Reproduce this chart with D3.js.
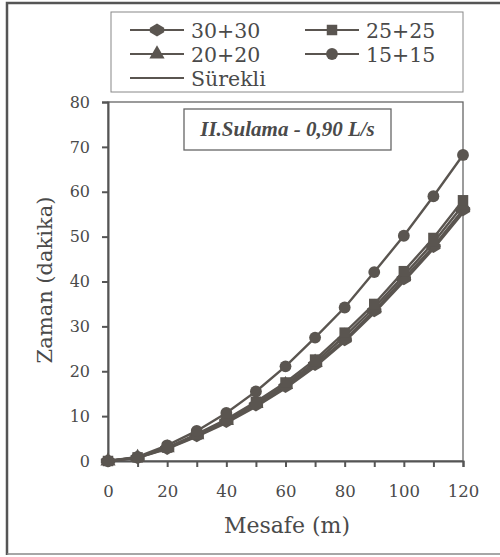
<!DOCTYPE html>
<html><head><meta charset="utf-8">
<script src="https://cdn.jsdelivr.net/npm/d3@7"></script>
<style>body{margin:0;background:#fff}svg{display:block}</style>
</head><body>
<script>
const distances = [0,10,20,30,40,50,60,70,80,90,100,110,120];
const s30 = [0,0.7,2.8,5.6,8.8,12.5,16.6,21.5,27.0,33.5,40.6,47.8,56.0];
const s25 = [0,0.8,3.0,6.0,9.3,13.2,17.5,22.6,28.6,35.0,42.3,49.7,58.1];
const s20 = [0,0.8,2.9,5.8,9.0,12.8,17.0,22.0,27.8,34.2,41.3,48.7,57.0];
const s15 = [0,0.9,3.5,6.7,10.7,15.5,21.1,27.5,34.2,42.1,50.2,59.0,68.2];
const surekli = [0,0.7,2.7,5.4,8.5,12.1,16.2,21.0,26.6,33.0,40.0,47.3,55.3];
const seriesNames = ["30+30","25+25","20+20","15+15","Sürekli"];
const yTicks = [0,10,20,30,40,50,60,70,80];
const xTicks = [0,20,40,60,80,100,120];
const title = "II.Sulama - 0,90 L/s";

const W=500,H=557, col="#5a5550", tcol="#4a4a4a";
const F="DejaVu Serif", FT="Liberation Serif";
const svg=d3.select("body").append("svg").attr("width",W).attr("height",H);
svg.append("rect").attr("width",W).attr("height",H).attr("fill","#fff");
svg.append("path").attr("d","M7,555 L7,3 L500,3").attr("fill","none").attr("stroke","#555").attr("stroke-width",2.5);
svg.append("line").attr("x1",7).attr("x2",500).attr("y1",554).attr("y2",554).attr("stroke","#888").attr("stroke-width",1.5);

const x=d3.scaleLinear().domain([0,120]).range([108,463]);
const y=d3.scaleLinear().domain([0,80]).range([461,102]);

svg.append("rect").attr("x",108).attr("y",102).attr("width",355).attr("height",359).attr("fill","none").attr("stroke","#666").attr("stroke-width",1.3);

const yAx=svg.append("g").attr("transform","translate(108,0)").call(d3.axisLeft(y).tickValues(yTicks).tickSize(6).tickPadding(12));
const xAx=svg.append("g").attr("transform","translate(0,461)").call(d3.axisBottom(x).tickValues(distances).tickSize(6).tickPadding(18).tickFormat(d=>xTicks.includes(d)?d:""));
[yAx,xAx].forEach(a=>{a.attr("font-family",F);a.select(".domain").attr("stroke","#555").attr("stroke-width",2);
 a.selectAll("line").attr("stroke","#555").attr("stroke-width",2);
 a.selectAll("text").attr("font-family",F).attr("fill",tcol);});
yAx.selectAll("text").attr("font-size",16);
xAx.selectAll("text").attr("font-size",16.5);

svg.append("text").attr("transform","translate(52,280) rotate(-90)").attr("text-anchor","middle")
 .attr("font-family",F).attr("font-size",21).attr("fill",tcol).text("Zaman (dakika)");
svg.append("text").attr("x",287).attr("y",533).attr("text-anchor","middle")
 .attr("font-family",F).attr("font-size",22).attr("fill",tcol).text("Mesafe (m)");

const hexDiamond={draw(ctx,size){const r=Math.sqrt(size)*0.62;ctx.moveTo(0,-r);ctx.lineTo(r*1.1,-r*0.35);ctx.lineTo(r*1.1,r*0.35);ctx.lineTo(0,r);ctx.lineTo(-r*1.1,r*0.35);ctx.lineTo(-r*1.1,-r*0.35);ctx.closePath();}};
const sym={"30+30":hexDiamond,"25+25":d3.symbolSquare,"20+20":d3.symbolTriangle,"15+15":d3.symbolCircle};
const symSize={"30+30":110,"25+25":110,"20+20":100,"15+15":110};
const data={"30+30":s30,"25+25":s25,"20+20":s20,"15+15":s15,"Sürekli":surekli};
const line=d3.line().x((d,i)=>x(distances[i])).y(d=>y(d));
["Sürekli","30+30","20+20","25+25","15+15"].forEach(n=>{
  svg.append("path").datum(data[n]).attr("d",line).attr("fill","none").attr("stroke",col).attr("stroke-width",2.4);
  if(sym[n]){
    svg.append("g").selectAll("path").data(data[n]).join("path")
      .attr("transform",(d,i)=>`translate(${x(distances[i])},${y(d)})`)
      .attr("d",d3.symbol().type(sym[n]).size(symSize[n])).attr("fill",col);
  }
});

svg.append("rect").attr("x",184).attr("y",109).attr("width",207).attr("height",41).attr("fill","#fff").attr("stroke","#666").attr("stroke-width",1.3);
svg.append("text").attr("x",287.5).attr("y",136).attr("text-anchor","middle").attr("font-family",FT)
 .attr("font-size",21).attr("font-weight","bold").attr("font-style","italic").attr("fill",tcol).text(title);

svg.append("rect").attr("x",111).attr("y",12).attr("width",352).attr("height",80).attr("fill","#fff").attr("stroke","#888").attr("stroke-width",1);
const pos=[[130,30],[305,30],[130,54],[305,54],[130,78]];
seriesNames.forEach((n,i)=>{
  const [lx,ly]=pos[i];
  svg.append("line").attr("x1",lx).attr("x2",lx+54).attr("y1",ly).attr("y2",ly).attr("stroke",col).attr("stroke-width",2);
  if(sym[n]) svg.append("path").attr("transform",`translate(${lx+27},${ly})`).attr("d",d3.symbol().type(sym[n]).size(symSize[n])).attr("fill",col);
  svg.append("text").attr("x",lx+61).attr("y",ly+7.5).attr("font-family",F).attr("font-size",20.5).attr("fill",tcol).text(n);
});
</script>
</body></html>
